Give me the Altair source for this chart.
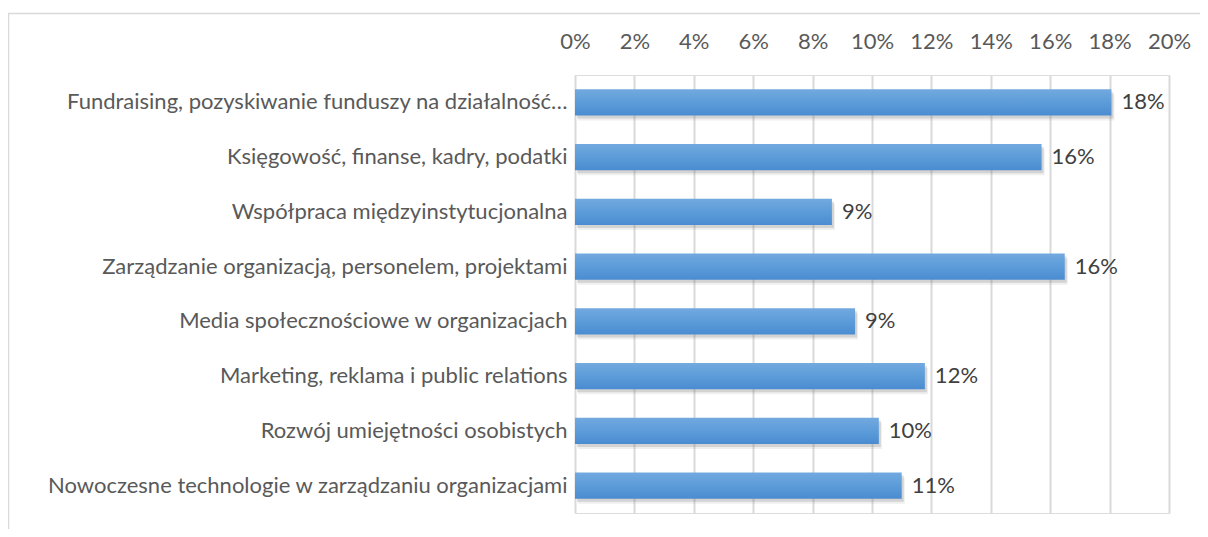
import altair as alt
import pandas as pd

categories = [
    "Fundraising, pozyskiwanie funduszy na działalność…",
    "Księgowość, finanse, kadry, podatki",
    "Współpraca międzyinstytucjonalna",
    "Zarządzanie organizacją, personelem, projektami",
    "Media społecznościowe w organizacjach",
    "Marketing, reklama i public relations",
    "Rozwój umiejętności osobistych",
    "Nowoczesne technologie w zarządzaniu organizacjami",
]
values = [0.1806, 0.1571, 0.0865, 0.1649, 0.0943, 0.1178, 0.1023, 0.1100]
tick_values = [0, 0.02, 0.04, 0.06, 0.08, 0.10, 0.12, 0.14, 0.16, 0.18, 0.20]

df = pd.DataFrame({"kategoria": categories, "wartosc": values})

FONT = "Lato"
FS = 22
W, H = 594, 438

y_enc = alt.Y(
    "kategoria:N",
    sort=categories,
    scale=alt.Scale(paddingInner=0.525, paddingOuter=0.2625),
    axis=alt.Axis(
        title=None, ticks=False, domain=False, labelPadding=8,
        labelLimit=700, labelFontSize=FS, labelFont=FONT, labelColor="#595959",
    ),
)
x_enc = alt.X(
    "wartosc:Q",
    scale=alt.Scale(domain=[0, 0.2], nice=False),
    axis=alt.Axis(
        orient="top", title=None, values=tick_values, format=".0%",
        domain=False, ticks=False, tickSize=0, labelPadding=22,
        labelFontSize=FS, labelFont=FONT, labelColor="#595959",
        grid=True, gridColor="#d9d9d9", gridWidth=2,
        labelFlush=False, labelOverlap=False,
    ),
)

base = alt.Chart(df)

bars = base.mark_bar(
    color=alt.Gradient(
        gradient="linear",
        stops=[
            alt.GradientStop(color="#72a9df", offset=0),
            alt.GradientStop(color="#5c9cd9", offset=0.5),
            alt.GradientStop(color="#4a8cd1", offset=1),
        ],
        x1=0, x2=0, y1=0, y2=1,
    )
).encode(x=x_enc, y=y_enc)

shadow1 = base.mark_bar(color="#7f7f7f", opacity=0.25, yOffset=3, xOffset=2).encode(
    x=x_enc, y=y_enc
)
shadow2 = base.mark_bar(color="#7f7f7f", opacity=0.12, yOffset=5, xOffset=3).encode(
    x=x_enc, y=y_enc
)

labels = base.mark_text(
    align="left", baseline="middle", dx=10, fontSize=FS, font=FONT, color="#404040"
).encode(
    x=x_enc,
    y=y_enc,
    text=alt.Text("wartosc:Q", format=".0%"),
)

frame = alt.Chart(pd.DataFrame({"a": [0]})).mark_rect(
    fill="transparent", stroke="#d9d9d9", strokeWidth=1.5
).encode(
    x=alt.value(-566.5), x2=alt.value(900), y=alt.value(-61.5), y2=alt.value(700)
)

chart = alt.layer(shadow2, shadow1, bars, labels, frame).properties(
    width=W, height=H,
    autosize=alt.AutoSizeParams(type="none"),
    padding={"left": 567, "top": 67, "right": 31, "bottom": 16},
).configure_view(strokeWidth=0, stroke="transparent").configure(background="white")

chart.save("out.html", embed_options={"renderer": "svg", "actions": False})
